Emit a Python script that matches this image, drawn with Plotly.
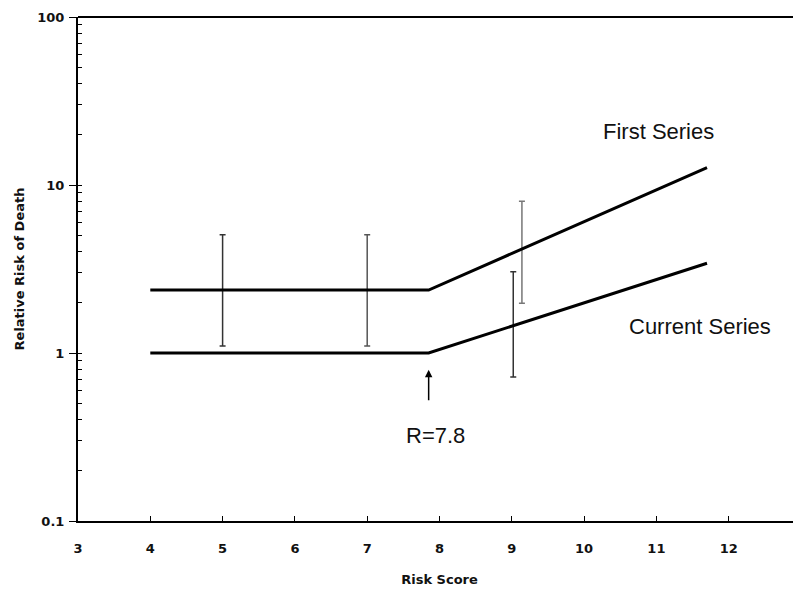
import plotly.graph_objects as go

# Data
first_x = [4, 7.85, 11.7]
first_y = [2.37, 2.37, 12.7]
current_x = [4, 7.85, 11.7]
current_y = [1.0, 1.0, 3.42]

err_x = [5, 7, 9.14, 9.02]
err_mid = [2.37, 2.37, 4.0, 1.5]
err_hi = [5.05, 5.05, 8.0, 3.05]
err_lo = [1.1, 1.1, 1.98, 0.72]
err_colors = ["#333333", "#555555", "#777777", "#333333"]

x_ticks = [3, 4, 5, 6, 7, 8, 9, 10, 11, 12]
y_ticks = [0.1, 1, 10, 100]
y_tick_labels = ["0.1", "1", "10", "100"]

fig = go.Figure()

for xv, m, hi, lo, c in zip(err_x, err_mid, err_hi, err_lo, err_colors):
    fig.add_trace(go.Scatter(
        x=[xv], y=[m], mode="markers",
        marker=dict(size=0.1, color="rgba(0,0,0,0)"),
        error_y=dict(type="data", symmetric=False, array=[hi - m], arrayminus=[m - lo],
                     color=c, thickness=1.5, width=3),
        showlegend=False, hoverinfo="skip"))

fig.add_trace(go.Scatter(x=first_x, y=first_y, mode="lines",
                         line=dict(color="black", width=3), showlegend=False))
fig.add_trace(go.Scatter(x=current_x, y=current_y, mode="lines",
                         line=dict(color="black", width=3), showlegend=False))

bold = dict(family="DejaVu Sans, sans-serif", size=13, weight="bold", color="#111111")
txt = dict(family="Liberation Sans, Arial, sans-serif", size=22, color="#111111")

fig.update_layout(
    width=793, height=582,
    margin=dict(l=70, r=0, t=9, b=69),
    paper_bgcolor="white", plot_bgcolor="white",
    font=dict(family="Liberation Sans, Arial, sans-serif", color="black"),
    xaxis=dict(range=[3, 13], tickvals=x_ticks, ticks="inside", ticklen=5,
               tickcolor="black", showgrid=False, zeroline=False,
               showline=True, linecolor="black", linewidth=2,
               tickfont=bold, ticklabelstandoff=14,
               title=dict(text="Risk Score", font=bold, standoff=20)),
    yaxis=dict(type="log", range=[-1, 2], tickvals=y_ticks, ticktext=y_tick_labels,
               ticks="outside", ticklen=7, tickcolor="black",
               showgrid=False, zeroline=False,
               showline=True, linecolor="black", linewidth=2,
               tickfont=bold, ticklabelstandoff=2,
               minor=dict(ticks="inside", ticklen=4, dtick="D1", tickcolor="black", showgrid=False),
               title=dict(text="Relative Risk of Death", font=bold, standoff=10)),
    shapes=[dict(type="line", xref="paper", yref="paper", x0=0, x1=1, y0=1, y1=1,
                 line=dict(color="black", width=2))],
    annotations=[
        dict(x=11.03, y=1.32, xref="x", yref="y", text="First Series", showarrow=False,
             font=txt, xanchor="center", yanchor="middle"),
        dict(x=11.6, y=0.16, xref="x", yref="y", text="Current Series", showarrow=False,
             font=txt, xanchor="center", yanchor="middle"),
        dict(x=7.95, y=-0.49, xref="x", yref="y", text="R=7.8", showarrow=False,
             font=txt, xanchor="center", yanchor="middle"),
        dict(x=7.85, y=-0.1, xref="x", yref="y", ax=7.85, ay=-0.29, axref="x", ayref="y",
             text="", showarrow=True, arrowhead=2, arrowsize=1, arrowwidth=1.5,
             arrowcolor="black"),
    ],
)

fig.write_html("out.html")
